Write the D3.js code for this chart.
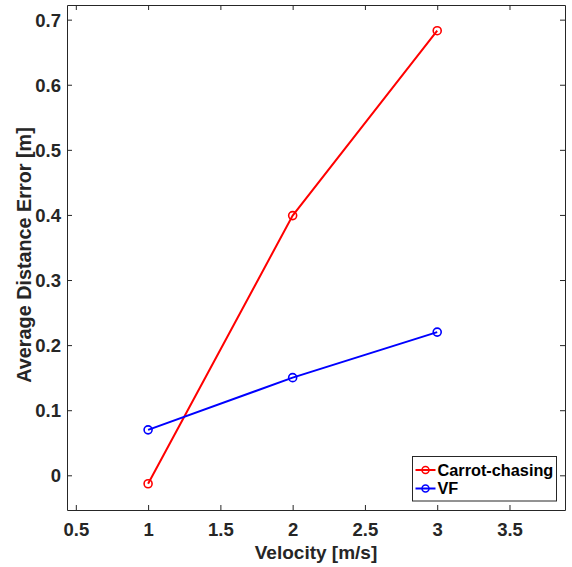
<!DOCTYPE html>
<html>
<head>
<meta charset="utf-8">
<script src="https://cdn.jsdelivr.net/npm/d3@7"></script>
<style>
  html, body { margin: 0; padding: 0; background: #fff; }
  svg { display: block; font-family: "Liberation Sans", Arial, sans-serif; }
</style>
</head>
<body>
<svg id="chart" width="572" height="567"></svg>
<script>
// Average tracking error versus commanded velocity
const velocities = [1, 2, 3];
const carrotChasing = [-0.013, 0.399, 0.683];
const vectorField = [0.0698, 0.150, 0.220];
const xTicks = [0.5, 1, 1.5, 2, 2.5, 3, 3.5];
const yTicks = [0, 0.1, 0.2, 0.3, 0.4, 0.5, 0.6, 0.7];
const seriesNames = ["Carrot-chasing", "VF"];
const seriesColors = ["#ff0000", "#0000ff"];

const svg = d3.select("#chart");
const plot = { left: 67, right: 565, top: 5, bottom: 510 };
const axisColor = "#262626";

const x = d3.scaleLinear().domain([0.439, 3.884]).range([plot.left, plot.right]);
const y = d3.scaleLinear().domain([-0.0533, 0.7225]).range([plot.bottom, plot.top]);

const fmt = d => String(d);

// Box with inward ticks on all four sides
const g = svg.append("g");
const tickLen = 5;
const axes = [
  { axis: d3.axisBottom(x).tickValues(xTicks).tickSizeInner(-tickLen).tickSizeOuter(0).tickFormat(fmt), t: `translate(0,${plot.bottom})` },
  { axis: d3.axisTop(x).tickValues(xTicks).tickSizeInner(-tickLen).tickSizeOuter(0).tickFormat(""), t: `translate(0,${plot.top})` },
  { axis: d3.axisLeft(y).tickValues(yTicks).tickSizeInner(-tickLen).tickSizeOuter(0).tickFormat(fmt), t: `translate(${plot.left},0)` },
  { axis: d3.axisRight(y).tickValues(yTicks).tickSizeInner(-tickLen).tickSizeOuter(0).tickFormat(""), t: `translate(${plot.right},0)` }
];
axes.forEach((a, i) => {
  const ax = g.append("g").attr("transform", a.t).call(a.axis);
  ax.select(".domain").attr("stroke", axisColor).attr("stroke-width", 1);
  ax.selectAll(".tick line").attr("stroke", axisColor).attr("stroke-width", 1);
  ax.selectAll(".tick text")
    .attr("fill", axisColor)
    .style("font-size", "18.5px")
    .style("font-weight", "bold")
    .style("font-family", "'Liberation Sans', Arial, sans-serif");
  if (i === 0) ax.selectAll(".tick text").attr("y", 13).attr("dy", "0.71em");
  if (i === 2) ax.selectAll(".tick text").attr("x", -6).attr("dy", "0.35em");
});

// Axis titles
svg.append("text")
  .attr("x", (plot.left + plot.right) / 2)
  .attr("y", 559)
  .attr("text-anchor", "middle")
  .attr("fill", axisColor)
  .style("font-size", "19px")
  .style("font-weight", "bold")
  .text("Velocity [m/s]");

svg.append("text")
  .attr("transform", `translate(31,255) rotate(-90)`)
  .attr("text-anchor", "middle")
  .attr("fill", axisColor)
  .style("font-size", "19.8px")
  .style("font-weight", "bold")
  .text("Average Distance Error [m]");

// Series lines with open circle markers
const seriesData = [carrotChasing, vectorField];
const line = d3.line().x(d => x(d[0])).y(d => y(d[1]));
seriesData.forEach((vals, i) => {
  const pts = velocities.map((v, j) => [v, vals[j]]);
  svg.append("path")
    .datum(pts)
    .attr("d", line)
    .attr("fill", "none")
    .attr("stroke", seriesColors[i])
    .attr("stroke-width", 2);
  svg.selectAll(null)
    .data(pts)
    .enter().append("circle")
    .attr("cx", d => x(d[0]))
    .attr("cy", d => y(d[1]))
    .attr("r", 4)
    .attr("fill", "none")
    .attr("stroke", seriesColors[i])
    .attr("stroke-width", 1.6);
});

// Legend
const lg = svg.append("g").attr("transform", "translate(412.5,456.5)");
lg.append("rect")
  .attr("width", 144)
  .attr("height", 44.5)
  .attr("fill", "#fff")
  .attr("stroke", axisColor)
  .attr("stroke-width", 1);
seriesNames.forEach((name, i) => {
  const cy = 13.5 + i * 18.5;
  lg.append("line")
    .attr("x1", 3).attr("x2", 23)
    .attr("y1", cy).attr("y2", cy)
    .attr("stroke", seriesColors[i])
    .attr("stroke-width", 2);
  lg.append("circle")
    .attr("cx", 13).attr("cy", cy).attr("r", 3.5)
    .attr("fill", "none")
    .attr("stroke", seriesColors[i])
    .attr("stroke-width", 1.5);
  lg.append("text")
    .attr("x", 25)
    .attr("y", cy)
    .attr("dy", "0.36em")
    .attr("fill", "#000")
    .style("font-size", "16.3px")
    .style("font-weight", "bold")
    .text(name);
});
</script>
</body>
</html>
